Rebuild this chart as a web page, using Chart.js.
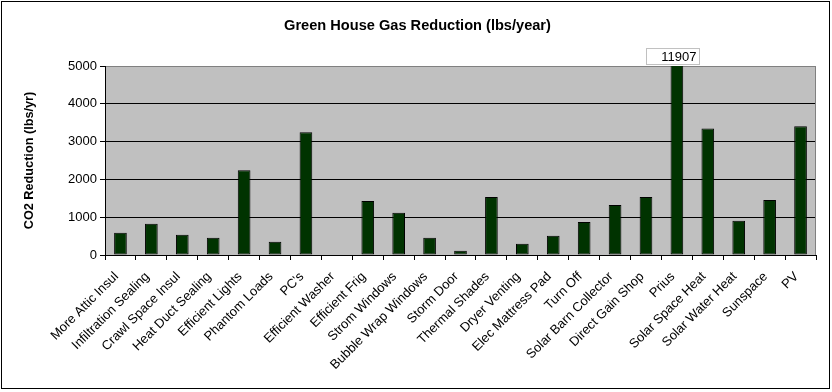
<!DOCTYPE html>
<html><head><meta charset="utf-8">
<script src="https://cdn.jsdelivr.net/npm/chart.js@4/dist/chart.umd.min.js"></script>
<style>
html,body{margin:0;padding:0;background:#fff;}
#wrap{position:absolute;left:0;top:0;width:832px;height:392px;}
#frame{position:absolute;left:1px;top:1px;width:827px;height:386px;border:1px solid #000;pointer-events:none;}
</style></head><body>
<div id="wrap"><canvas id="c" width="832" height="392"></canvas><div id="frame"></div></div>
<script>
const categories = ["More Attic Insul","Infiltration Sealing","Crawl Space Insul","Heat Duct Sealing","Efficient Lights","Phantom Loads","PC's","Efficient Washer","Efficient Frig","Strom Windows","Bubble Wrap Windows","Storm Door","Thermal Shades","Dryer Venting","Elec Mattress Pad","Turn Off","Solar Barn Collector","Direct Gain Shop","Prius","Solar Space Heat","Solar Water Heat","Sunspace","PV"];
const reductions = [590,825,535,455,2245,350,3245,0,1430,1115,455,115,1535,300,510,875,1325,1535,11907,3350,905,1455,3405];
const yTicks = [0,1000,2000,3000,4000,5000];
const chartTitle = "Green House Gas Reduction (lbs/year)";
const yTitle = "CO2 Reduction (lbs/yr)";

const FONT = "Arial, 'Liberation Sans', sans-serif";

const plotFrame = {
  id: 'plotFrame',
  beforeDraw(chart) {
    const {ctx, chartArea: a} = chart;
    ctx.save();
    ctx.fillStyle = '#c0c0c0';
    ctx.fillRect(a.left, a.top, a.right - a.left, a.bottom - a.top);
    ctx.restore();
  },
  beforeDatasetsDraw(chart) {
    const {ctx, chartArea: a} = chart;
    ctx.save();
    ctx.strokeStyle = '#808080';
    ctx.lineWidth = 1;
    ctx.beginPath();
    ctx.moveTo(Math.round(a.right) - 0.5, a.top);
    ctx.lineTo(Math.round(a.right) - 0.5, a.bottom);
    ctx.stroke();
    ctx.restore();
  },
  afterDatasetsDraw(chart) {
    const {ctx} = chart;
    const yMax = chart.scales.y.max;
    const meta = chart.getDatasetMeta(0);
    const data = chart.data.datasets[0].data;
    ctx.save();
    data.forEach((v, i) => {
      if (v > yMax) {
        const bx = meta.data[i].x;
        const left = Math.round(bx - 31) + 0.5, right = Math.round(bx + 22) + 0.5;
        const top = chart.chartArea.top - 18 + 0.5, bottom = chart.chartArea.top - 2 + 0.5;
        ctx.fillStyle = '#fff';
        ctx.fillRect(left, top, right - left, bottom - top);
        ctx.strokeStyle = '#c0c0c0';
        ctx.lineWidth = 1;
        ctx.strokeRect(left, top, right - left, bottom - top);
        ctx.fillStyle = '#000';
        ctx.font = '13px ' + FONT;
        ctx.textAlign = 'right';
        ctx.textBaseline = 'middle';
        ctx.fillText(String(v), right - 3, (top + bottom) / 2 + 1);
      }
    });
    // y axis title
    const a = chart.chartArea;
    ctx.translate(29, (a.top + a.bottom) / 2);
    ctx.rotate(-Math.PI / 2);
    ctx.fillStyle = '#000';
    ctx.font = 'bold 12.7px ' + FONT;
    ctx.textAlign = 'center';
    ctx.textBaseline = 'middle';
    ctx.fillText(yTitle, 0, 0);
    ctx.restore();
  }
};

new Chart(document.getElementById('c'), {
  type: 'bar',
  data: {
    labels: categories,
    datasets: [{
      data: reductions,
      backgroundColor: '#003300',
      borderColor: '#000',
      borderWidth: 1,
      borderSkipped: false,
      barPercentage: 1,
      categoryPercentage: 0.41
    }]
  },
  options: {
    responsive: false,
    devicePixelRatio: 1,
    animation: false,
    events: [],
    layout: { padding: { left: 19, right: 16, top: 0, bottom: 0 } },
    plugins: {
      legend: { display: false },
      tooltip: { enabled: false },
      title: {
        display: true,
        text: chartTitle,
        color: '#000',
        font: { family: FONT, size: 14.6, weight: 'bold' },
        padding: { top: 17.7, bottom: 30.8 }
      }
    },
    scales: {
      x: {
        grid: { offset: true, drawOnChartArea: false, tickLength: 5, color: '#000' },
        border: { color: '#000', width: 1 },
        ticks: {
          autoSkip: false, maxRotation: 45, minRotation: 45,
          color: '#000', font: { family: FONT, size: 13 }, padding: 9, labelOffset: -4
        },
        afterFit(scale) { scale.height = 137; }
      },
      y: {
        min: 0, max: 5000,
        afterBuildTicks(scale) { scale.ticks = yTicks.map(v => ({ value: v })); },
        grid: {
          color: ctx => (ctx.tick && ctx.tick.value === 5000) ? '#808080' : '#000',
          tickColor: '#000', tickLength: 5
        },
        border: { color: '#000', width: 1 },
        ticks: { color: '#000', font: { family: FONT, size: 13 }, padding: 3, callback: v => String(v) },
        afterFit(scale) { scale.width = 86; }
      }
    }
  },
  plugins: [plotFrame]
});
</script>
</body></html>
